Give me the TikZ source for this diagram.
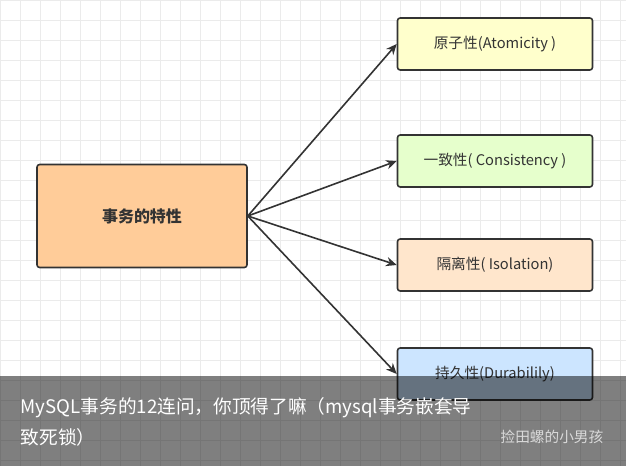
\documentclass[tikz,border=0pt]{standalone}
\usepackage{fontspec}
\setmainfont{Noto Sans CJK SC}
\usetikzlibrary{positioning,arrows.meta}
\definecolor{cAll}{HTML}{FFCC99}
\definecolor{cA}{HTML}{FFFFCC}
\definecolor{cC}{HTML}{E6FFCC}
\definecolor{cI}{HTML}{FFE6CC}
\definecolor{cD}{HTML}{CCE5FF}
\definecolor{edge}{HTML}{333333}
\tikzset{
    prop/.style={draw=edge, line width=1.2pt, rounded corners=2pt, minimum width=195*0.75pt, minimum height=52*0.75pt, font=\fontsize{11}{13}\selectfont, text=edge},
    link/.style={draw=edge, line width=1.2pt, -{Stealth[length=8pt,width=7pt]}},
}
\begin{document}
\begin{tikzpicture}[x=0.75pt,y=-0.75pt]
    \useasboundingbox (0,0) rectangle (626,466);
    \fill[white] (0,0) rectangle (626,466);
    \draw[black!8, line width=0.4pt] (0,0) grid[step=20*0.75pt] (626,466);

    \node[prop, fill=cAll, minimum width=210*0.75pt, minimum height=103*0.75pt, font=\bfseries\fontsize{12}{14}\selectfont] at (142,216) (All) {事务的特性};
    \node[prop, fill=cA] at (495,44) (A) {原子性(Atomicity )};
    \node[prop, fill=cC] at (495,161) (C) {一致性( Consistency )};
    \node[prop, fill=cI] at (495,265) (I) {隔离性( Isolation)};
    \node[prop, fill=cD] at (495,374) (D) {持久性(Durabilily)};

    \draw[link] (All.east) -- (A.west);
    \draw[link] (All.east) -- (C.west);
    \draw[link] (All.east) -- (I.west);
    \draw[link] (All.east) -- (D.west);

    % banner over the bottom
    \fill[black, opacity=0.5] (0,376) rectangle (626,466);
    \node[anchor=west, text=white, font=\fontsize{14}{16}\selectfont] at (16,408) (T1) {MySQL事务的12连问，你顶得了嘛（mysql事务嵌套导};
    \node[anchor=west, text=white, font=\fontsize{14}{16}\selectfont] at (16,437) (T2) {致死锁）};
    \node[anchor=east, text=white!85!black, font=\fontsize{11}{13}\selectfont] at (608,437) (W) {捡田螺的小男孩};
\end{tikzpicture}
\end{document}
